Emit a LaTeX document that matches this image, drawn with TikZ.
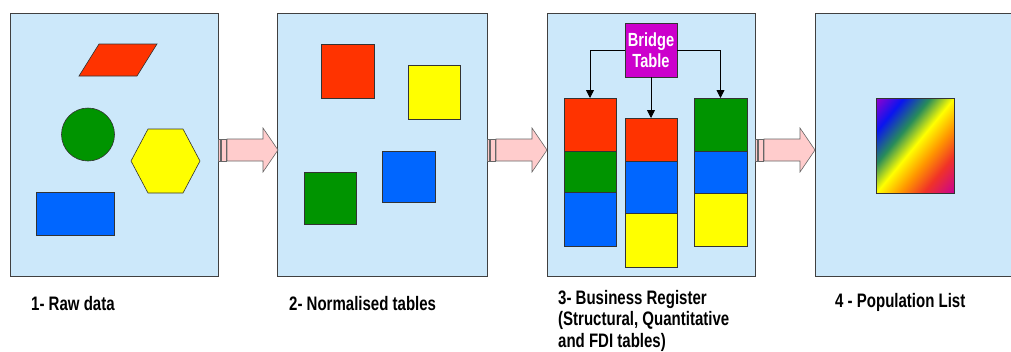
\documentclass[tikz,border=0pt]{standalone}
\usepackage{fontspec}
\setmainfont{Liberation Sans}[FakeStretch=0.77]
\usetikzlibrary{arrows.meta,calc}
\definecolor{panelblue}{RGB}{204,232,250}
\definecolor{shred}{RGB}{255,51,0}
\definecolor{shgreen}{RGB}{0,148,0}
\definecolor{shblue}{RGB}{0,102,255}
\definecolor{shyellow}{RGB}{255,255,0}
\definecolor{shmagenta}{RGB}{204,0,204}
\definecolor{arrpink}{RGB}{255,204,204}
\definecolor{gpurple}{RGB}{153,0,204}
\definecolor{gblue}{RGB}{10,20,240}
\definecolor{ggreen}{RGB}{40,140,90}
\definecolor{gyellow}{RGB}{255,255,0}
\definecolor{gorange}{RGB}{255,150,0}
\definecolor{gred}{RGB}{240,50,40}
\definecolor{gmagenta}{RGB}{200,0,150}
\pgfdeclarehorizontalshading{rainbowsh}{100bp}{color(0bp)=(gpurple); color(18bp)=(gblue); color(35bp)=(ggreen); color(50bp)=(gyellow); color(65bp)=(gorange); color(80bp)=(gred); color(100bp)=(gmagenta)}
\newcommand\blkarrow[1]{%
  \draw[arrline, fill=arrpink] (#1,139) rectangle (#1+2.5,161);
  \draw[arrline, fill=arrpink] (#1+3.5,139) rectangle (#1+8,161);
  \draw[arrline, fill=arrpink] (#1+9,139) -- (#1+45,139) -- (#1+45,128) -- (#1+60,150) -- (#1+45,172) -- (#1+45,161) -- (#1+9,161) -- cycle;
}
\begin{document}
\begin{tikzpicture}[x=1pt,y=-1pt,
  panel/.style={draw=black!75, fill=panelblue, line width=0.8pt, inner sep=0pt, outer sep=0pt},
  shp/.style={draw=black!80, line width=0.6pt, inner sep=0pt, outer sep=0pt},
  arrline/.style={draw=black!60, line width=0.6pt},
  conn/.style={draw=black, line width=0.8pt, -{Triangle[length=8pt,width=8pt]}},
  lbl/.style={anchor=base west, inner sep=0pt, font=\fontsize{19.5}{21.5}\selectfont\bfseries}
]
\useasboundingbox (0,0) rectangle (1011,351);
\clip (0,0) rectangle (1011,351);

% panels
\node[panel, minimum width=208pt, minimum height=263pt] (p1) at (114,144.5) {};
\node[panel, minimum width=210pt, minimum height=263pt] (p2) at (382,144.5) {};
\node[panel, minimum width=208pt, minimum height=263pt] (p3) at (651,144.5) {};
\node[panel, minimum width=205pt, minimum height=263pt] (p4) at (917.5,144.5) {};

% block arrows
\blkarrow{218}
\blkarrow{487}
\blkarrow{755}

% panel 1: raw data
\draw[shp, fill=shred] (79,76) -- (137,76) -- (157,44) -- (99,44) -- cycle;
\node[shp, circle, fill=shgreen, minimum size=53pt] (circ) at (88,134.5) {};
\draw[shp, fill=shyellow] (131,161) -- (148,129) -- (183,129) -- (200,161) -- (183,193) -- (148,193) -- cycle;
\node[shp, fill=shblue, minimum width=78pt, minimum height=43pt] (rawrect) at (75,213.5) {};

% panel 2: normalised tables
\node[shp, fill=shred, minimum width=53pt, minimum height=54pt] (n1) at (347.5,71) {};
\node[shp, fill=shyellow, minimum width=52pt, minimum height=54pt] (n2) at (434,92) {};
\node[shp, fill=shblue, minimum width=53pt, minimum height=51pt] (n3) at (408.5,176.5) {};
\node[shp, fill=shgreen, minimum width=52pt, minimum height=52pt] (n4) at (330,198) {};

% panel 3: business register
\node[shp, fill=shmagenta, minimum width=52pt, minimum height=54pt, text=white, align=center,
  font=\fontsize{19}{21.5}\selectfont\bfseries] (bridge) at (651,50) {Bridge\\Table};
\node[shp, fill=shred, minimum width=52pt, minimum height=53pt] (c1a) at (590,124.5) {};
\node[shp, fill=shgreen, minimum width=52pt, minimum height=41pt] (c1b) at (590,171.5) {};
\node[shp, fill=shblue, minimum width=52pt, minimum height=54pt] (c1c) at (590,219) {};
\node[shp, fill=shred, minimum width=52pt, minimum height=43pt] (c2a) at (651,139.5) {};
\node[shp, fill=shblue, minimum width=52pt, minimum height=52pt] (c2b) at (651,187) {};
\node[shp, fill=shyellow, minimum width=52pt, minimum height=54pt] (c2c) at (651,240) {};
\node[shp, fill=shgreen, minimum width=53pt, minimum height=53pt] (c3a) at (720.5,124.5) {};
\node[shp, fill=shblue, minimum width=53pt, minimum height=42pt] (c3b) at (720.5,172) {};
\node[shp, fill=shyellow, minimum width=53pt, minimum height=53pt] (c3c) at (720.5,219.5) {};
\draw[conn] (bridge.west) -| (c1a.north);
\draw[conn] (bridge.east) -| (c3a.north);
\draw[conn] (bridge.south) -- (c2a.north);

% panel 4: population list
\begin{scope}
  \clip (876,98) rectangle (954,193);
  \begin{scope}[shift={(915,145.5)}, xscale=78, yscale=95]
    \node[inner sep=0pt, outer sep=0pt, rotate=-45, scale=0.0142, transform shape] at (0,0) {\pgfuseshading{rainbowsh}};
  \end{scope}
\end{scope}
\node[shp, minimum width=78pt, minimum height=95pt] (grad) at (915,145.5) {};

% labels
\node[lbl] (l1) at (31,310) {1- Raw data};
\node[lbl] (l2) at (289,310) {2- Normalised tables};
\node[lbl] (l3a) at (558,304) {3- Business Register};
\node[lbl] (l3b) at (558,325.5) {(Structural, Quantitative};
\node[lbl] (l3c) at (558,347) {and FDI tables)};
\node[lbl] (l4) at (835,307) {4 - Population List};
\end{tikzpicture}
\end{document}
